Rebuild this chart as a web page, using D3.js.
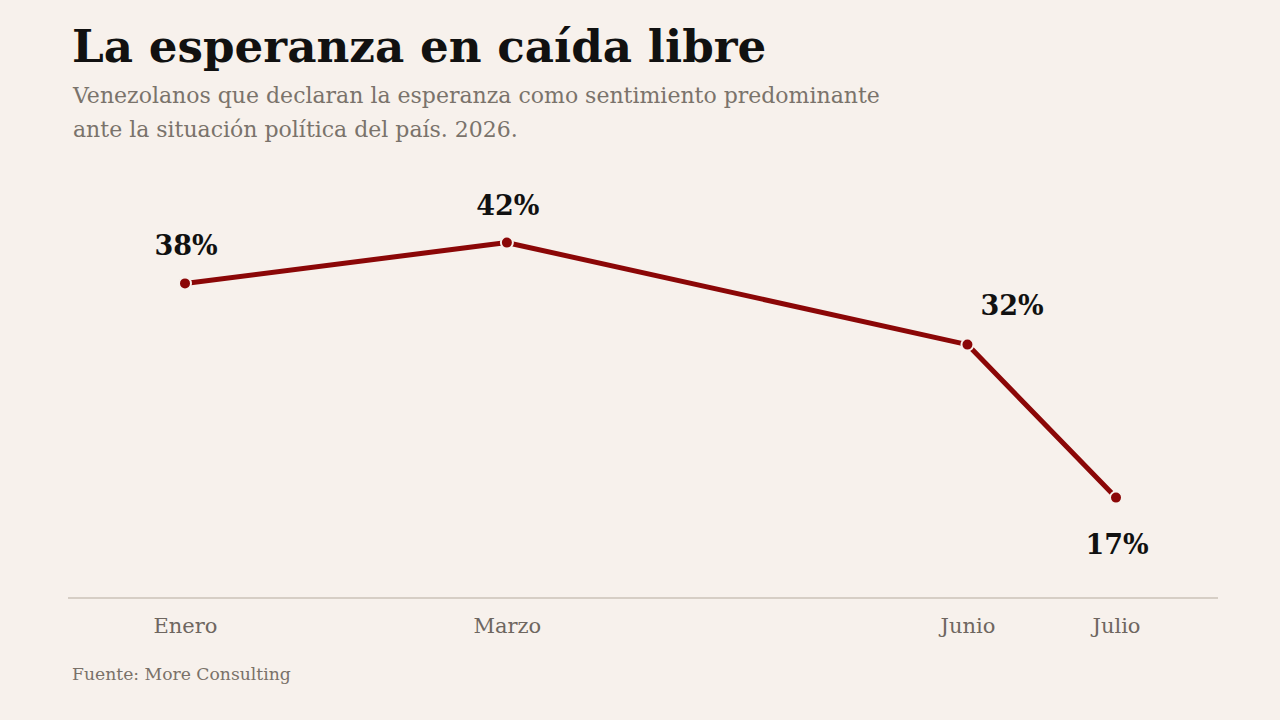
<!DOCTYPE html>
<html>
<head>
<meta charset="utf-8">
<script src="https://cdn.jsdelivr.net/npm/d3@7"></script>
<style>
  html, body { margin: 0; padding: 0; background: #f7f1ec; }
  svg { display: block; font-family: "DejaVu Serif", serif; }
</style>
</head>
<body>
<svg id="chart" width="1280" height="720"></svg>
<script>
// survey fieldwork dates, label and value
var dates = ["2026-01-10", "2026-03-16", "2026-06-17", "2026-07-17"];
var months = ["Enero", "Marzo", "Junio", "Julio"];
var values = [38, 42, 32, 17];
// where each value label sits relative to its point
var labelPos = ["above", "above", "right", "below"];

var parse = d3.timeParse("%Y-%m-%d");
var data = dates.map((d, i) => ({date: parse(d), month: months[i], value: values[i], pos: labelPos[i]}));

var svg = d3.select("#chart");

svg.append("rect").attr("width", 1280).attr("height", 720).attr("fill", "#f7f1ec");

// title + subtitle
svg.append("text")
    .attr("x", 72).attr("y", 62)
    .attr("font-size", 45.2).attr("font-weight", "bold").attr("fill", "#111")
    .text("La esperanza en caída libre");

var sub = svg.append("text")
    .attr("x", 73).attr("y", 103)
    .attr("font-size", 22).attr("fill", "#7a736b");
sub.append("tspan").attr("x", 73).text("Venezolanos que declaran la esperanza como sentimiento predominante");
sub.append("tspan").attr("x", 73).attr("dy", 34).text("ante la situación política del país. 2026.");

var x = d3.scaleTime()
    .domain(d3.extent(data, d => d.date))
    .range([185, 1116]);

var y = d3.scaleLinear()
    .domain([0, 50])
    .range([671, 161]);

// baseline
svg.append("line")
    .attr("x1", 68).attr("x2", 1218)
    .attr("y1", 598).attr("y2", 598)
    .attr("stroke", "#cbc2b9").attr("stroke-width", 1.5);

// month labels
var xAxis = d3.axisBottom(x)
    .tickValues(data.map(d => d.date))
    .tickFormat((d, i) => months[i])
    .tickSize(0)
    .tickPadding(0);

var ax = svg.append("g").attr("transform", "translate(0,613)").call(xAxis);
ax.select(".domain").remove();
ax.selectAll("text")
    .attr("font-family", "DejaVu Serif, serif")
    .attr("font-size", 21)
    .attr("fill", "#6e665f")
    .attr("dy", "0.95em");

var line = d3.line()
    .x(d => x(d.date))
    .y(d => y(d.value));

svg.append("path")
    .datum(data)
    .attr("d", line)
    .attr("fill", "none")
    .attr("stroke", "#8b0707")
    .attr("stroke-width", 5)
    .attr("stroke-linejoin", "round");

svg.selectAll("circle.pt")
    .data(data)
    .enter().append("circle")
    .attr("class", "pt")
    .attr("cx", d => x(d.date))
    .attr("cy", d => y(d.value))
    .attr("r", 6)
    .attr("fill", "#8b0707")
    .attr("stroke", "#f7f1ec")
    .attr("stroke-width", 2);

svg.selectAll("text.val")
    .data(data)
    .enter().append("text")
    .attr("class", "val")
    .attr("x", d => d.pos == "right" ? x(d.date) + 13 : x(d.date) + 1)
    .attr("y", d => {
        if (d.pos == "above") return y(d.value) - 28;
        if (d.pos == "below") return y(d.value) + 56;
        return y(d.value) - 30;
    })
    .attr("text-anchor", d => d.pos == "right" ? "start" : "middle")
    .attr("font-size", 27)
    .attr("font-weight", "bold")
    .attr("fill", "#111")
    .text(d => d.value + "%");

// source
svg.append("text")
    .attr("x", 72).attr("y", 680)
    .attr("font-size", 17.2).attr("fill", "#7a7169")
    .text("Fuente: More Consulting");
</script>
</body>
</html>
